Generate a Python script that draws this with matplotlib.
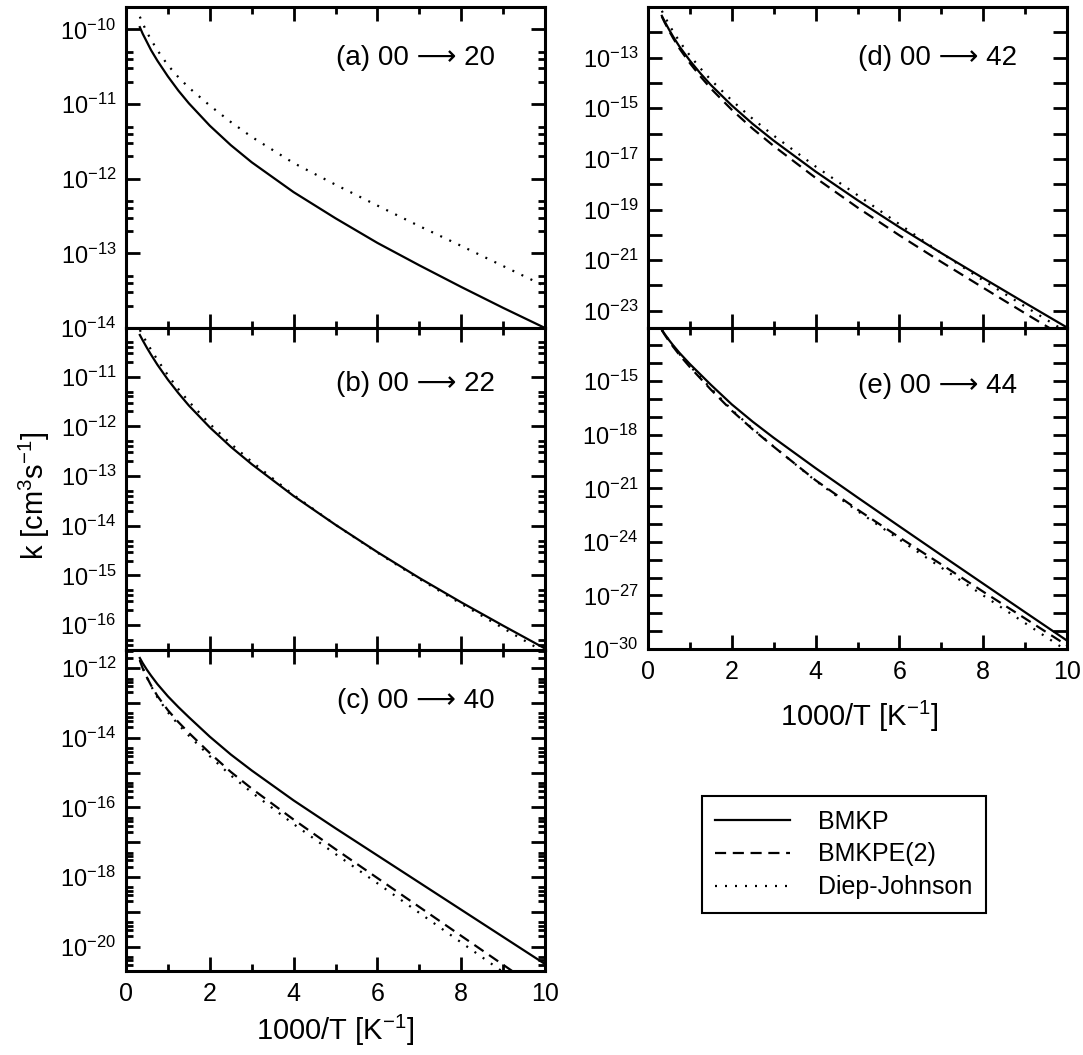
import numpy as np
import matplotlib
matplotlib.use('Agg')
import matplotlib.pyplot as plt
from matplotlib import ticker
from matplotlib.lines import Line2D

plt.rcParams.update({
    "font.family": ["Liberation Sans", "DejaVu Sans"],
    "mathtext.default": "regular",
    "axes.linewidth": 2.2,
    "xtick.direction": "in",
    "ytick.direction": "in",
    "xtick.top": True,
    "ytick.right": True,
    "xtick.major.size": 10,
    "ytick.major.size": 10,
    "xtick.minor.size": 5,
    "ytick.minor.size": 5,
    "xtick.major.width": 2,
    "ytick.major.width": 2,
    "xtick.minor.width": 2,
    "ytick.minor.width": 2,
    "xtick.labelsize": 18,
    "ytick.labelsize": 17,
    "xtick.major.pad": 8,
    "ytick.major.pad": 7,
})

x_pts = [0.33, 0.4, 0.5, 0.6, 0.75, 1, 1.25, 1.5, 2, 2.5, 3, 4, 5, 6, 7, 8, 9, 10]

# log10 of k [cm^3 s^-1]
# (a) 00 -> 20
a_bmkp = [-9.97, -10.06, -10.17, -10.28, -10.42, -10.63, -10.82, -10.99, -11.29, -11.55, -11.78,
          -12.18, -12.53, -12.86, -13.16, -13.45, -13.73, -14.0]
a_diep = [-9.83, -9.92, -10.04, -10.14, -10.28, -10.48, -10.64, -10.78, -11.02, -11.24, -11.44,
          -11.79, -12.08, -12.36, -12.635, -12.9, -13.17, -13.44]
# (b) 00 -> 22
b_bmkp = [-10.16, -10.27, -10.42, -10.56, -10.76, -11.06, -11.33, -11.58, -12.02, -12.41, -12.76,
          -13.4, -13.98, -14.53, -15.05, -15.54, -16.01, -16.47]
b_diep = [-10.06, -10.17, -10.32, -10.46, -10.66, -10.97, -11.25, -11.5, -11.95, -12.35, -12.71,
          -13.38, -13.98, -14.54, -15.07, -15.57, -16.06, -16.55]
# (c) 00 -> 40
c_bmkp = [-11.71, -11.86, -12.05, -12.22, -12.46, -12.81, -13.12, -13.41, -13.97, -14.48, -14.94,
          -15.8, -16.6, -17.38, -18.16, -18.94, -19.72, -20.5]
c_bmkpe = [-11.78, -12.01, -12.27, -12.5, -12.8, -13.21, -13.55, -13.86, -14.44, -14.98, -15.46,
           -16.35, -17.2, -18.03, -18.86, -19.69, -20.52, -21.35]
c_diep = [-11.76, -12.0, -12.27, -12.52, -12.84, -13.27, -13.62, -13.94, -14.53, -15.08, -15.57,
          -16.48, -17.34, -18.18, -19.03, -19.88, -20.73, -21.58]
# (d) 00 -> 42
d_bmkp = [-11.35, -11.58, -11.885, -12.17, -12.56, -13.12, -13.62, -14.08, -14.89, -15.62, -16.28,
          -17.5, -18.63, -19.7, -20.72, -21.71, -22.69, -23.66]
d_bmkpe = [-11.38, -11.62, -11.935, -12.23, -12.64, -13.22, -13.74, -14.22, -15.06, -15.81, -16.49,
           -17.75, -18.92, -20.02, -21.07, -22.09, -23.1, -24.1]
d_diep = [-11.15, -11.38, -11.685, -11.97, -12.36, -12.92, -13.42, -13.88, -14.69, -15.42, -16.08,
          -17.3, -18.43, -19.58, -20.72, -21.8, -22.83, -23.85]
# (e) 00 -> 44
e_bmkp = [-12.12, -12.365, -12.69, -12.99, -13.41, -14.04, -14.62, -15.2, -16.3, -17.27, -18.17,
          -19.87, -21.51, -23.13, -24.74, -26.34, -27.94, -29.53]
e_bmkpe = [-12.15, -12.405, -12.75, -13.07, -13.53, -14.21, -14.84, -15.47, -16.65, -17.7, -18.67,
           -20.55, -22.19, -23.75, -25.26, -26.79, -28.29, -29.8]
e_diep = [-12.1, -12.37, -12.71, -13.03, -13.48, -14.15, -14.78, -15.4, -16.6, -17.67, -18.66,
          -20.58, -22.27, -23.87, -25.44, -27.0, -28.55, -30.1]

# y ranges (log10) and labelled decades per panel
a_ylim = (-14, -9.7)
b_ylim = (-16.5, -10.02)
c_ylim = (-20.7, -11.48)
d_ylim = (-23.68, -11.0)
e_ylim = (-30, -12.02)
a_labels = [-14, -13, -12, -11, -10]
b_labels = [-16, -15, -14, -13, -12, -11]
c_labels = [-20, -18, -16, -14, -12]
d_labels = [-23, -21, -19, -17, -15, -13]
e_labels = [-30, -27, -24, -21, -18, -15]

titles = ["(a) 00 \u27f6 20", "(b) 00 \u27f6 22", "(c) 00 \u27f6 40",
          "(d) 00 \u27f6 42", "(e) 00 \u27f6 44"]
legend_labels = ["BMKP", "BMKPE(2)", "Diep-Johnson"]

W, H = 1083, 1055
fig = plt.figure(figsize=(W / 100, H / 100), dpi=100)

def px_axes(x0, y0, x1, y1):
    return fig.add_axes([x0 / W, 1 - y1 / H, (x1 - x0) / W, (y1 - y0) / H])

ax_a = px_axes(126, 7, 545, 328)
ax_b = px_axes(126, 328, 545, 650)
ax_c = px_axes(126, 650, 545, 971)
ax_d = px_axes(648, 7, 1067, 328)
ax_e = px_axes(648, 328, 1067, 649)

styles = {
    "bmkp": dict(color="black", lw=1.6, ls="-"),
    "bmkpe": dict(color="black", lw=1.6, ls=(0, (5, 3))),
    "diep": dict(color="black", lw=1.6, ls=(0, (0.9, 3.6))),
}

def setup(ax, ylim, labels, minor, xlabels):
    ax.set_yscale("log")
    ax.set_xlim(0, 10)
    ax.set_ylim(10.0 ** ylim[0], 10.0 ** ylim[1])
    lo, hi = int(np.ceil(ylim[0])), int(np.floor(ylim[1]))
    ax.yaxis.set_major_locator(ticker.FixedLocator(10.0 ** np.arange(lo, hi + 1)))
    lab = set(labels)

    def fmt(v, pos):
        e = int(round(np.log10(v)))
        return r"$\mathregular{10^{%d}}$" % e if e in lab else ""
    ax.yaxis.set_major_formatter(ticker.FuncFormatter(fmt))
    if minor:
        m = [k * 10.0 ** d for d in range(lo - 1, hi + 1) for k in (2, 3, 4, 5)]
        ax.yaxis.set_minor_locator(ticker.FixedLocator(m))
    else:
        ax.yaxis.set_minor_locator(ticker.NullLocator())
    ax.yaxis.set_minor_formatter(ticker.NullFormatter())
    ax.xaxis.set_major_locator(ticker.MultipleLocator(2))
    ax.xaxis.set_minor_locator(ticker.MultipleLocator(1))
    if not xlabels:
        ax.set_xticklabels([])
    ax.tick_params(which="both", top=True, right=True)

def curve(ax, ys, key):
    ax.plot(x_pts, 10.0 ** np.array(ys), **styles[key])

panels = [
    (ax_a, a_ylim, a_labels, True, False, [(a_bmkp, "bmkp"), (a_diep, "diep")], 0.84),
    (ax_b, b_ylim, b_labels, True, False, [(b_bmkp, "bmkp"), (b_diep, "diep")], 0.825),
    (ax_c, c_ylim, c_labels, True, True, [(c_bmkp, "bmkp"), (c_bmkpe, "bmkpe"), (c_diep, "diep")], 0.84),
    (ax_d, d_ylim, d_labels, False, False, [(d_bmkp, "bmkp"), (d_bmkpe, "bmkpe"), (d_diep, "diep")], 0.84),
    (ax_e, e_ylim, e_labels, False, True, [(e_bmkp, "bmkp"), (e_bmkpe, "bmkpe"), (e_diep, "diep")], 0.82),
]
for (ax, ylim, labels, minor, xl, series, ty), title in zip(panels, titles):
    setup(ax, ylim, labels, minor, xl)
    for ys, key in series:
        curve(ax, ys, key)
    ax.text(0.88, ty, title, transform=ax.transAxes, ha="right", va="center", fontsize=20)

fig.text(0.032, 0.53, r"k [cm$^{3}$s$^{-1}$]", rotation=90, ha="center", va="center", fontsize=21)
fig.text(335 / W, 1 - 1030 / H, r"1000/T [K$^{-1}$]", ha="center", va="center", fontsize=21)
fig.text(859 / W, 1 - 716 / H, r"1000/T [K$^{-1}$]", ha="center", va="center", fontsize=21)

handles = [Line2D([], [], **styles[k]) for k in ("bmkp", "bmkpe", "diep")]
leg = fig.legend(handles, legend_labels, loc="lower right", bbox_to_anchor=(986 / W, 1 - 913 / H),
                 fontsize=18, frameon=True, fancybox=False, edgecolor="black", framealpha=1,
                 handlelength=3.0, handletextpad=1.1, labelspacing=0.35, borderpad=0.55,
                 borderaxespad=0)
leg.get_frame().set_linewidth(1.5)

fig.savefig("out.png", dpi=100)
